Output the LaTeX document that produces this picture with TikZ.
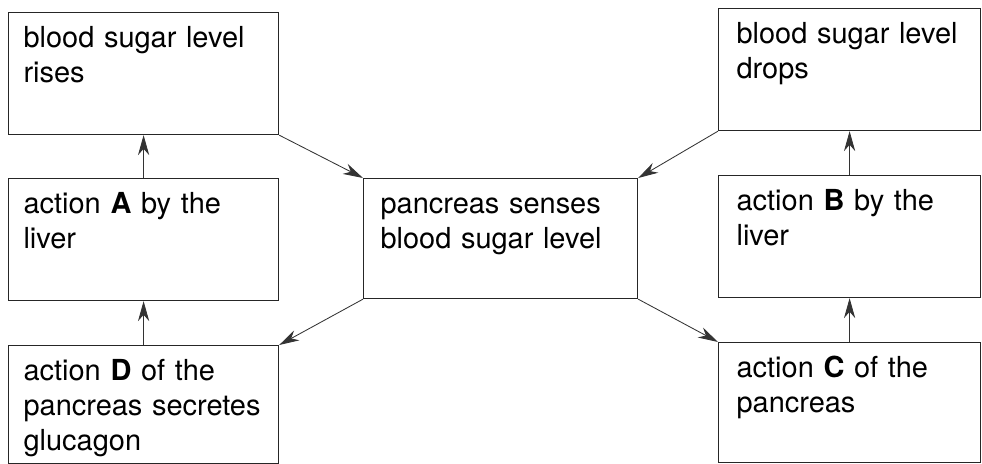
\documentclass[tikz,border=0pt]{standalone}
\usepackage{fontspec}
\setmainfont{TeX Gyre Heros}
\usepackage{xcolor}
\usetikzlibrary{arrows.meta, positioning}

\begin{document}
\begin{tikzpicture}[
    x=0.025cm, y=-0.025cm,
    font=\fontsize{20.6pt}{24.8pt}\selectfont,
    kotak/.style={draw=black!85, line width=0.8pt, anchor=north west, align=left,
                  inner xsep=0.375cm, inner ysep=0pt, text width=6cm,
                  text height=0.875cm, text depth=2.175cm},
    kanan/.style={kotak, inner xsep=0.45cm, text width=5.65cm},
    panah/.style={-{Stealth[length=5mm, width=2.8mm, inset=1.6mm]}, line width=0.6pt, black!80}
  ]
    \useasboundingbox (0,0) rectangle (982,464);

    % kolom kiri
    \node[kotak] (naik) at (8,12) {blood sugar level\\rises};
    \node[kotak] (aksiA) at (8,178) {action \textbf{A} by the\\liver};
    \node[kotak, text depth=2.075cm] (aksiD) at (8,345) {action \textbf{D} of the\\pancreas secretes\\glucagon};

    % tengah
    \node[kotak, inner xsep=0.425cm, text depth=2.125cm] (pankreas) at (363,178) {pancreas senses\\blood sugar level};

    % kolom kanan
    \node[kanan] (turun) at (718,8) {blood sugar level\\drops};
    \node[kanan] (aksiB) at (718,175) {action \textbf{B} by the\\liver};
    \node[kanan, text depth=2.125cm] (aksiC) at (718,342) {action \textbf{C} of the\\pancreas};

    \draw[panah] (aksiA.north) -- (naik.south);
    \draw[panah] (aksiD.north) -- (aksiA.south);
    \draw[panah] (aksiB.north) -- (turun.south);
    \draw[panah] (aksiC.north) -- (aksiB.south);

    \draw[panah] (naik.south east) -- (pankreas.north west);
    \draw[panah] (turun.south west) -- (pankreas.north east);
    \draw[panah] (pankreas.south west) -- (aksiD.north east);
    \draw[panah] (pankreas.south east) -- (aksiC.north west);
  \end{tikzpicture}
\end{document}
